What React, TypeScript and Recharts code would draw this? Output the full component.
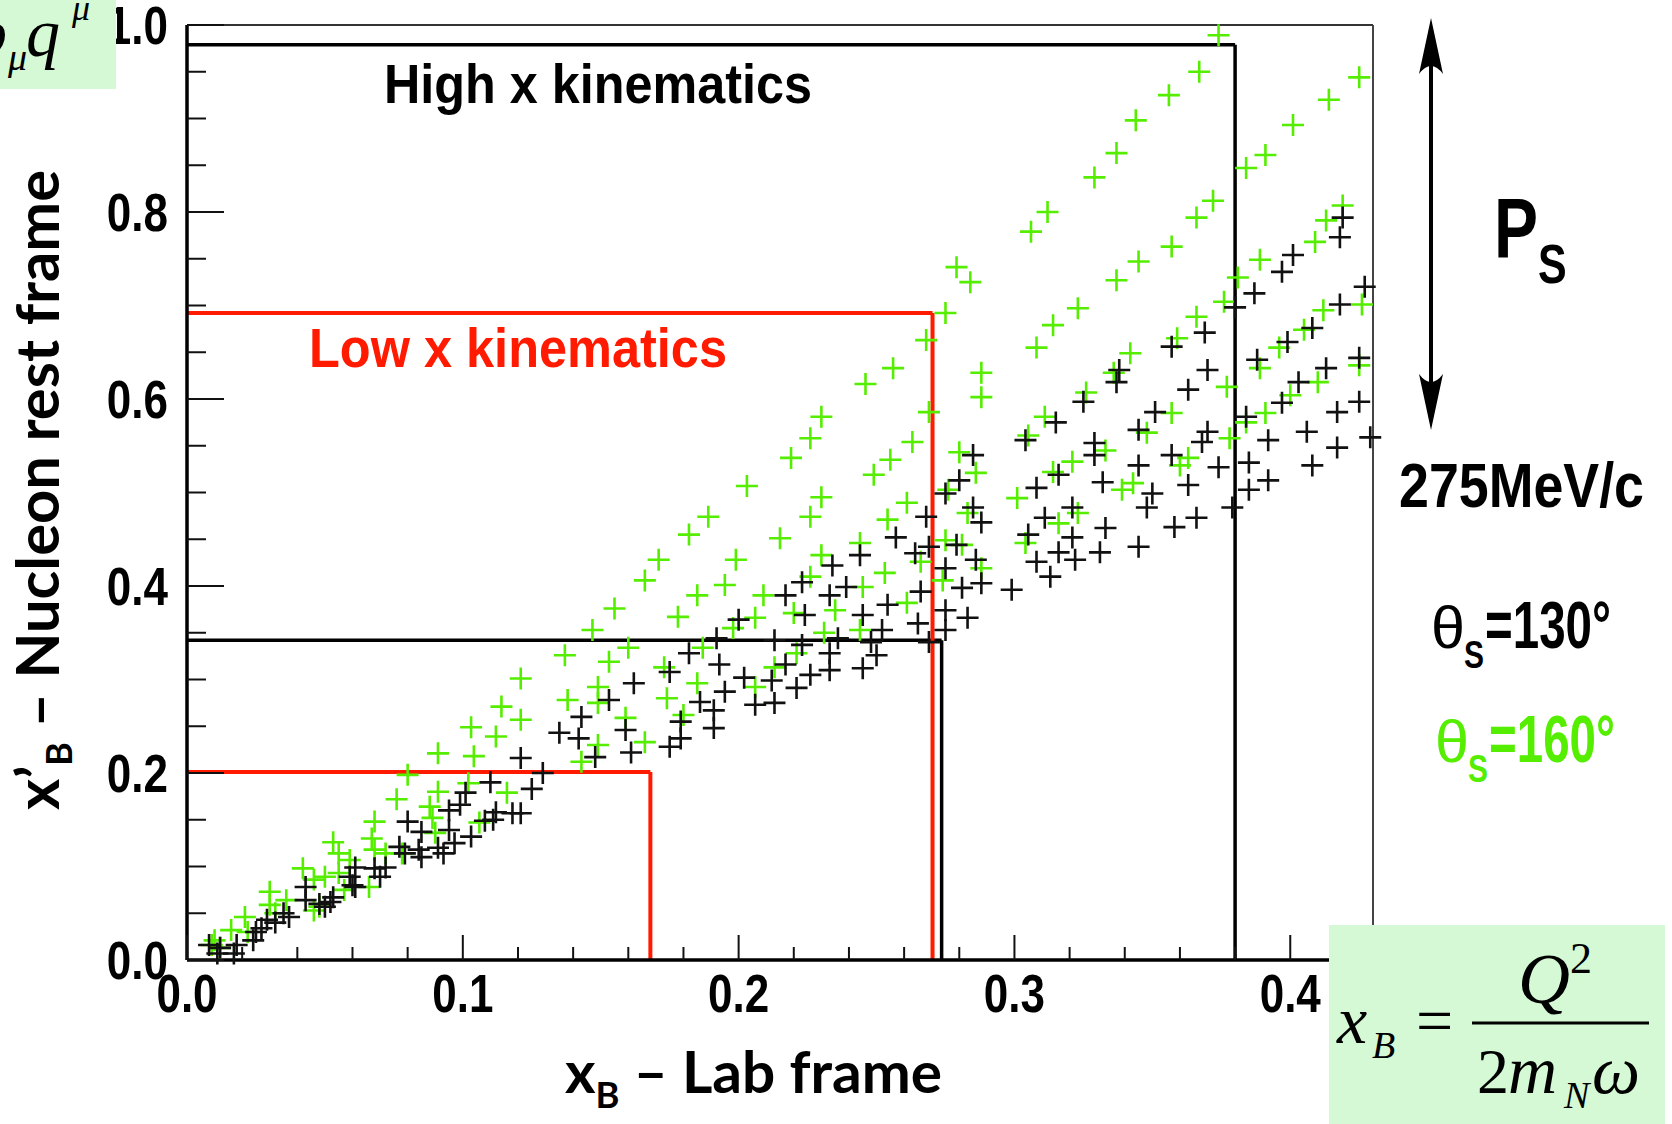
import { ScatterChart, Scatter, XAxis, YAxis, ReferenceLine } from 'recharts'

// theta_s = 160 deg (green crosses), [x_B, x'_B]
const theta160: number[][] = [
  [0.374, 0.989], [0.367, 0.95], [0.356, 0.925], [0.344, 0.898], [0.337, 0.863],
  [0.425, 0.944], [0.414, 0.92], [0.401, 0.893], [0.391, 0.861], [0.384, 0.847],
  [0.372, 0.812], [0.366, 0.794], [0.357, 0.763], [0.345, 0.747], [0.337, 0.727],
  [0.419, 0.807], [0.413, 0.791], [0.409, 0.768], [0.389, 0.749], [0.381, 0.73],
  [0.376, 0.704], [0.366, 0.688], [0.359, 0.665], [0.342, 0.649], [0.336, 0.628],
  [0.426, 0.701], [0.412, 0.695], [0.405, 0.674], [0.396, 0.655], [0.389, 0.633],
  [0.425, 0.636], [0.41, 0.618], [0.4, 0.604], [0.391, 0.585], [0.384, 0.575],
  [0.377, 0.613], [0.357, 0.585], [0.348, 0.564], [0.333, 0.545], [0.363, 0.537],
  [0.36, 0.529], [0.378, 0.558], [0.343, 0.51], [0.339, 0.503], [0.329, 0.837],
  [0.312, 0.8], [0.306, 0.779], [0.279, 0.741], [0.284, 0.725], [0.275, 0.692],
  [0.268, 0.663], [0.256, 0.633], [0.246, 0.616], [0.23, 0.581], [0.269, 0.586],
  [0.263, 0.554], [0.255, 0.535], [0.249, 0.519], [0.23, 0.495], [0.261, 0.489],
  [0.254, 0.471], [0.244, 0.446], [0.23, 0.433], [0.253, 0.414], [0.245, 0.399],
  [0.266, 0.426], [0.288, 0.628], [0.288, 0.602], [0.28, 0.543], [0.286, 0.521],
  [0.276, 0.503], [0.283, 0.478], [0.275, 0.449], [0.281, 0.444], [0.288, 0.419],
  [0.274, 0.406], [0.308, 0.655], [0.314, 0.679], [0.323, 0.697], [0.326, 0.607],
  [0.311, 0.581], [0.305, 0.561], [0.314, 0.522], [0.321, 0.533], [0.301, 0.494],
  [0.316, 0.467], [0.323, 0.478], [0.304, 0.446], [0.226, 0.558], [0.219, 0.537],
  [0.203, 0.507], [0.189, 0.474], [0.182, 0.455], [0.171, 0.428], [0.166, 0.406],
  [0.155, 0.376], [0.147, 0.353], [0.226, 0.474], [0.215, 0.451], [0.199, 0.428],
  [0.195, 0.401], [0.185, 0.39], [0.178, 0.367], [0.16, 0.334], [0.153, 0.319],
  [0.137, 0.326], [0.226, 0.41], [0.209, 0.39], [0.206, 0.366], [0.198, 0.355],
  [0.187, 0.334], [0.173, 0.313], [0.185, 0.296], [0.149, 0.292], [0.138, 0.278],
  [0.149, 0.275], [0.174, 0.28], [0.18, 0.262], [0.159, 0.259], [0.166, 0.233],
  [0.149, 0.23], [0.143, 0.212], [0.22, 0.371], [0.235, 0.374], [0.244, 0.353],
  [0.206, 0.292], [0.221, 0.328], [0.213, 0.313], [0.231, 0.35], [0.261, 0.382],
  [0.121, 0.301], [0.114, 0.271], [0.121, 0.257], [0.103, 0.249], [0.112, 0.239],
  [0.091, 0.221], [0.104, 0.218], [0.08, 0.198], [0.091, 0.18], [0.076, 0.172],
  [0.102, 0.189], [0.116, 0.179], [0.068, 0.148], [0.067, 0.13], [0.053, 0.126],
  [0.068, 0.118], [0.088, 0.164], [0.089, 0.152], [0.09, 0.136], [0.072, 0.114],
  [0.106, 0.147], [0.055, 0.114], [0.059, 0.107], [0.078, 0.114], [0.066, 0.078],
  [0.057, 0.075], [0.055, 0.093], [0.05, 0.089], [0.046, 0.053], [0.042, 0.098],
  [0.03, 0.073], [0.03, 0.059], [0.021, 0.046], [0.022, 0.03], [0.016, 0.032],
  [0.01, 0.021], [0.012, 0.013], [0.009, 0.016], [0.036, 0.064], [0.046, 0.086],
  [0.048, 0.057], [0.032, 0.05],
]

// theta_s = 130 deg (black crosses)
const theta130: number[][] = [
  [0.419, 0.794], [0.418, 0.773], [0.401, 0.754], [0.397, 0.736], [0.387, 0.713],
  [0.38, 0.698], [0.427, 0.72], [0.418, 0.701], [0.408, 0.676], [0.399, 0.661],
  [0.388, 0.642], [0.413, 0.633], [0.403, 0.618], [0.397, 0.596], [0.425, 0.644],
  [0.425, 0.597], [0.417, 0.586], [0.429, 0.559], [0.406, 0.565], [0.392, 0.556],
  [0.384, 0.581], [0.417, 0.548], [0.408, 0.529], [0.385, 0.532], [0.392, 0.513],
  [0.385, 0.503], [0.369, 0.671], [0.357, 0.656], [0.338, 0.631], [0.337, 0.618],
  [0.37, 0.631], [0.363, 0.61], [0.351, 0.586], [0.345, 0.567], [0.37, 0.565],
  [0.368, 0.554], [0.357, 0.54], [0.345, 0.529], [0.374, 0.527], [0.363, 0.508],
  [0.35, 0.499], [0.332, 0.511], [0.379, 0.484], [0.333, 0.462], [0.345, 0.442],
  [0.358, 0.463], [0.366, 0.473], [0.331, 0.436], [0.348, 0.484], [0.268, 0.474],
  [0.257, 0.452], [0.244, 0.433], [0.234, 0.422], [0.264, 0.435], [0.269, 0.442],
  [0.275, 0.499], [0.28, 0.513], [0.285, 0.54], [0.285, 0.484], [0.288, 0.468],
  [0.279, 0.444], [0.275, 0.419], [0.286, 0.428], [0.288, 0.403], [0.281, 0.398],
  [0.299, 0.396], [0.304, 0.556], [0.315, 0.575], [0.325, 0.597], [0.308, 0.505],
  [0.316, 0.519], [0.329, 0.553], [0.329, 0.54], [0.311, 0.473], [0.321, 0.484],
  [0.321, 0.452], [0.305, 0.455], [0.316, 0.436], [0.308, 0.426], [0.322, 0.428],
  [0.313, 0.41], [0.266, 0.394], [0.233, 0.39], [0.239, 0.399], [0.2, 0.364],
  [0.217, 0.39], [0.223, 0.404], [0.224, 0.369], [0.245, 0.369], [0.254, 0.38],
  [0.252, 0.353], [0.265, 0.36], [0.275, 0.374], [0.283, 0.366], [0.192, 0.344],
  [0.182, 0.328], [0.175, 0.308], [0.162, 0.296], [0.153, 0.278], [0.143, 0.26],
  [0.135, 0.243], [0.142, 0.237], [0.148, 0.217], [0.159, 0.246], [0.161, 0.222],
  [0.175, 0.228], [0.179, 0.237], [0.179, 0.255], [0.191, 0.248], [0.191, 0.267],
  [0.195, 0.287], [0.186, 0.276], [0.202, 0.302], [0.193, 0.316], [0.206, 0.273],
  [0.213, 0.275], [0.212, 0.299], [0.217, 0.316], [0.221, 0.291], [0.226, 0.305],
  [0.223, 0.337], [0.233, 0.328], [0.233, 0.31], [0.245, 0.312], [0.25, 0.326],
  [0.248, 0.34], [0.213, 0.342], [0.236, 0.344], [0.275, 0.353], [0.269, 0.34],
  [0.121, 0.216], [0.11, 0.19], [0.101, 0.179], [0.099, 0.166], [0.103, 0.132],
  [0.095, 0.139], [0.097, 0.125], [0.093, 0.114], [0.08, 0.148], [0.077, 0.121],
  [0.084, 0.118], [0.085, 0.11], [0.068, 0.098], [0.072, 0.099], [0.07, 0.089],
  [0.061, 0.099], [0.059, 0.089], [0.061, 0.078], [0.052, 0.062], [0.053, 0.067],
  [0.05, 0.057], [0.043, 0.078], [0.043, 0.064], [0.035, 0.05], [0.032, 0.04],
  [0.029, 0.043], [0.025, 0.03], [0.024, 0.021], [0.018, 0.016], [0.017, 0.007],
  [0.012, 0.013], [0.008, 0.016], [0.011, 0.007], [0.111, 0.15], [0.112, 0.158],
  [0.118, 0.157], [0.121, 0.157], [0.085, 0.137], [0.091, 0.12], [0.079, 0.114],
  [0.06, 0.08], [0.048, 0.06], [0.095, 0.16], [0.108, 0.149], [0.037, 0.046],
  [0.027, 0.034], [0.129, 0.2], [0.125, 0.183],
]

// kinematic boxes (polylines)
const highBoxTop = [[0, 0.979], [0.38, 0.979], [0.38, 0]]
const highBoxBottom = [[0, 0.342], [0.2736, 0.342], [0.2736, 0]]
const lowBoxTop = [[0, 0.692], [0.2703, 0.692], [0.2703, 0]]
const lowBoxBottom = [[0, 0.201], [0.168, 0.201], [0.168, 0]]

const xTicks = [0, 0.02, 0.04, 0.06, 0.08, 0.1, 0.12, 0.14, 0.16, 0.18, 0.2, 0.22, 0.24, 0.26, 0.28, 0.3, 0.32, 0.34, 0.36, 0.38, 0.4, 0.42]
const xMajor = [0, 0.1, 0.2, 0.3, 0.4]
const yTicks = [0, 0.05, 0.1, 0.15, 0.2, 0.25, 0.3, 0.35, 0.4, 0.45, 0.5, 0.55, 0.6, 0.65, 0.7, 0.75, 0.8, 0.85, 0.9, 0.95, 1]
const yMajor = [0, 0.2, 0.4, 0.6, 0.8, 1]

const GREEN = '#55ee00'
const RED = '#ff1a00'
const ROOT_FONT = '"Liberation Sans", Arial, sans-serif'
const TITLE_FONT = 'Lato, "Open Sans", sans-serif'
const MATH_FONT = '"Liberation Serif", "Times New Roman", serif'

const toPoints = (arr: number[][]) => arr.map(([x, y]) => ({ x, y }))
const isMajor = (list: number[], v: number) => list.some((m) => Math.abs(m - v) < 1e-6)

const cross = (color: string) => (props: any) => {
  const { cx, cy } = props
  if (cx == null || cy == null) return <g />
  return (
    <path
      d={`M${cx - 11},${cy}H${cx + 11}M${cx},${cy - 11}V${cy + 11}`}
      stroke={color}
      strokeWidth={2.6}
      fill="none"
    />
  )
}

const XTick = (props: any) => {
  const { x, y, payload } = props
  const v = payload.value
  const major = isMajor(xMajor, v)
  return (
    <g>
      <line x1={x} x2={x} y1={y} y2={y - (major ? 25 : 13)} stroke="#111" strokeWidth={2} />
      {major && (
        <text
          transform={`translate(${x},${y + 52}) scale(1,1.24)`}
          textAnchor="middle"
          fontFamily={ROOT_FONT}
          fontWeight="bold"
          fontSize={44}
          fill="#000"
        >
          {v.toFixed(1)}
        </text>
      )}
    </g>
  )
}

const YTick = (props: any) => {
  const { x, y, payload } = props
  const v = payload.value
  const major = isMajor(yMajor, v)
  return (
    <g>
      <line x1={x} x2={x + (major ? 37 : 19)} y1={y} y2={y} stroke="#111" strokeWidth={2} />
      {major && (
        <text
          transform={`translate(${x - 19},${y + 19}) scale(1,1.24)`}
          textAnchor="end"
          fontFamily={ROOT_FONT}
          fontWeight="bold"
          fontSize={44}
          fill="#000"
        >
          {v.toFixed(1)}
        </text>
      )}
    </g>
  )
}

const segments = (poly: number[][], color: string, width: number, key: string) =>
  poly.slice(1).map((p, i) => (
    <ReferenceLine
      key={`${key}-${i}`}
      segment={[{ x: poly[i][0], y: poly[i][1] }, { x: p[0], y: p[1] }]}
      stroke={color}
      strokeWidth={width}
      ifOverflow="visible"
    />
  ))

function Annotations() {
  return (
    <svg
      width={1672}
      height={1124}
      style={{ position: 'absolute', left: 0, top: 0, pointerEvents: 'none' }}
    >
      {/* in-plot labels */}
      <text
        transform="translate(384,103) scale(1,1.12)"
        fontFamily={ROOT_FONT}
        fontWeight="bold"
        fontSize={50}
        textLength={428}
        lengthAdjust="spacingAndGlyphs"
        fill="#000"
      >
        High x kinematics
      </text>
      <text
        transform="translate(309,367) scale(1,1.1)"
        fontFamily={ROOT_FONT}
        fontWeight="bold"
        fontSize={50}
        textLength={418}
        lengthAdjust="spacingAndGlyphs"
        fill={RED}
      >
        Low x kinematics
      </text>

      {/* axis titles */}
      <text
        transform="translate(59,490) rotate(-90)"
        textAnchor="middle"
        fontFamily={TITLE_FONT}
        fontWeight={700}
        fontSize={60}
        textLength={640}
        lengthAdjust="spacingAndGlyphs"
        fill="#000"
      >
        x’<tspan fontSize={36} dy={13}>B</tspan>
        <tspan dy={-13}> – Nucleon rest frame</tspan>
      </text>
      <text
        x={565}
        y={1093}
        fontFamily={TITLE_FONT}
        fontWeight={700}
        fontSize={58}
        textLength={377}
        lengthAdjust="spacingAndGlyphs"
        fill="#000"
      >
        x<tspan fontSize={36} dy={15}>B</tspan>
        <tspan dy={-15}> – Lab frame</tspan>
      </text>

      {/* momentum arrow */}
      <line x1={1431} x2={1431} y1={40} y2={408} stroke="#000" strokeWidth={4} />
      <path d="M1431,18 L1443,74 Q1431,58 1419,74 Z" fill="#000" />
      <path d="M1431,430 L1443,374 Q1431,390 1419,374 Z" fill="#000" />

      <text transform="translate(1494,258) scale(1,1.3)" fontFamily={ROOT_FONT} fontWeight="bold" fontSize={66} fill="#000">
        P
      </text>
      <text transform="translate(1538,283) scale(1,1.3)" fontFamily={ROOT_FONT} fontWeight="bold" fontSize={43} fill="#000">
        S
      </text>
      <text
        transform="translate(1399,507) scale(1,1.15)"
        fontFamily={ROOT_FONT}
        fontWeight="bold"
        fontSize={54}
        textLength={245}
        lengthAdjust="spacingAndGlyphs"
        fill="#000"
      >
        275MeV/c
      </text>

      {/* theta_s = 130 */}
      <text transform="translate(1431,648) scale(1,1.2)" fontFamily={ROOT_FONT} fontSize={50} textLength={34} lengthAdjust="spacingAndGlyphs" fill="#000">
        θ
      </text>
      <text transform="translate(1464,668) scale(1,1.3)" fontFamily={ROOT_FONT} fontWeight="bold" fontSize={30} fill="#000">
        S
      </text>
      <text
        transform="translate(1485,648) scale(1,1.33)"
        fontFamily={ROOT_FONT}
        fontWeight="bold"
        fontSize={50}
        textLength={126}
        lengthAdjust="spacingAndGlyphs"
        fill="#000"
      >
        =130°
      </text>

      {/* theta_s = 160 */}
      <text transform="translate(1435,762) scale(1,1.2)" fontFamily={ROOT_FONT} fontSize={50} textLength={34} lengthAdjust="spacingAndGlyphs" fill={GREEN}>
        θ
      </text>
      <text transform="translate(1468,782) scale(1,1.3)" fontFamily={ROOT_FONT} fontWeight="bold" fontSize={30} fill={GREEN}>
        S
      </text>
      <text
        transform="translate(1489,762) scale(1,1.33)"
        fontFamily={ROOT_FONT}
        fontWeight="bold"
        fontSize={50}
        textLength={126}
        lengthAdjust="spacingAndGlyphs"
        fill={GREEN}
      >
        =160°
      </text>

      {/* top-left formula fragment */}
      <rect x={0} y={0} width={116} height={89} fill="#d4f9d4" />
      <g fontFamily={MATH_FONT} fontStyle="italic" fill="#000">
        <text x={-26} y={55} fontSize={66}>p</text>
        <text x={8} y={70} fontSize={38}>μ</text>
        <text x={26} y={56} fontSize={68}>q</text>
        <text x={72} y={20} fontSize={36}>μ</text>
      </g>

      {/* bottom-right formula */}
      <rect x={1329} y={925} width={336} height={199} fill="#d4f9d4" />
      <g fontFamily={MATH_FONT} fill="#000">
        <text x={1337} y={1043} fontSize={68} fontStyle="italic">x</text>
        <text x={1372} y={1058} fontSize={38} fontStyle="italic">B</text>
        <text x={1416} y={1043} fontSize={66}>=</text>
        <line x1={1472} x2={1649} y1={1023} y2={1023} stroke="#000" strokeWidth={3} />
        <text x={1518} y={1003} fontSize={72} fontStyle="italic">Q</text>
        <text x={1570} y={973} fontSize={44}>2</text>
        <text x={1477} y={1093} fontSize={64}>2</text>
        <text x={1508} y={1093} fontSize={68} fontStyle="italic">m</text>
        <text x={1564} y={1108} fontSize={38} fontStyle="italic">N</text>
        <text x={1592} y={1093} fontSize={68} fontStyle="italic">ω</text>
      </g>
    </svg>
  )
}

export default function App() {
  return (
    <div
      style={{
        position: 'absolute',
        left: 0,
        top: 0,
        width: 1672,
        height: 1124,
        background: '#fff',
        overflow: 'hidden',
      }}
    >
      <ScatterChart width={1672} height={1124} margin={{ top: 25, right: 299, bottom: 104, left: 107 }}>
        <XAxis
          type="number"
          dataKey="x"
          domain={[0, 0.43]}
          ticks={xTicks}
          interval={0}
          tick={<XTick />}
          tickSize={0}
          tickMargin={0}
          tickLine={false}
          axisLine={{ stroke: '#000', strokeWidth: 3.5 }}
          height={60}
        />
        <YAxis
          type="number"
          dataKey="y"
          domain={[0, 1]}
          ticks={yTicks}
          interval={0}
          tick={<YTick />}
          tickSize={0}
          tickMargin={0}
          tickLine={false}
          axisLine={{ stroke: '#000', strokeWidth: 3.5 }}
          width={80}
        />
        <ReferenceLine y={1} stroke="#333" strokeWidth={2} />
        <ReferenceLine x={0.43} stroke="#444" strokeWidth={2} />
        <Scatter data={toPoints(theta160)} shape={cross(GREEN)} isAnimationActive={false} />
        <Scatter data={toPoints(theta130)} shape={cross('#111')} isAnimationActive={false} />
        {segments(highBoxTop, '#000', 3.5, 'ht')}
        {segments(highBoxBottom, '#000', 3.5, 'hb')}
        {segments(lowBoxTop, RED, 4, 'lt')}
        {segments(lowBoxBottom, RED, 4, 'lb')}
      </ScatterChart>
      <Annotations />
    </div>
  )
}
